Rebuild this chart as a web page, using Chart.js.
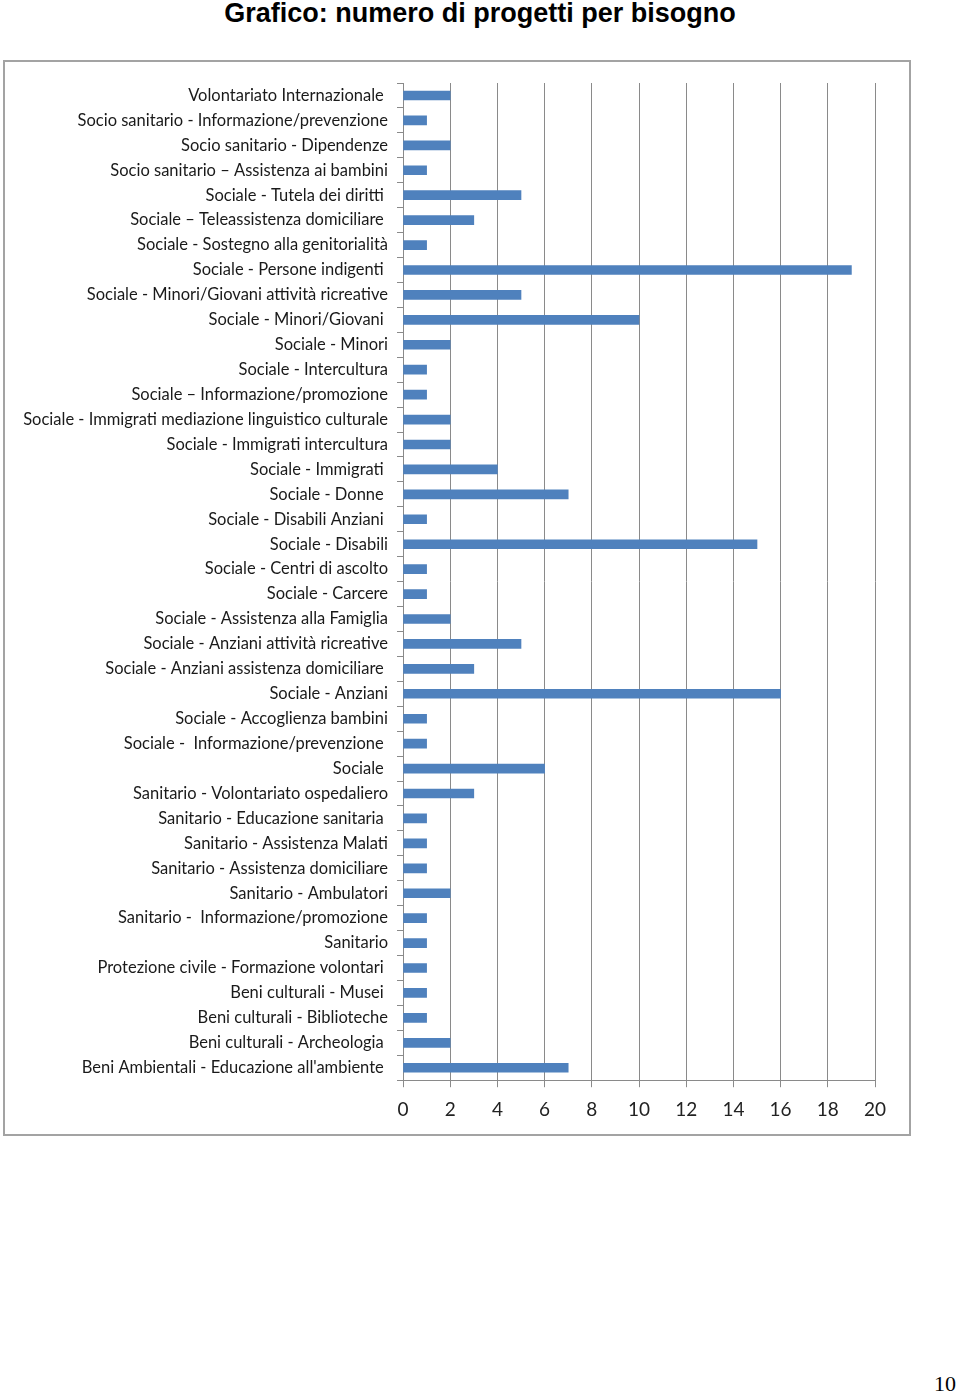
<!DOCTYPE html>
<html lang="it">
<head>
    <meta charset="UTF-8">
    <title>Grafico: numero di progetti per bisogno</title>
    <script src="https://cdn.jsdelivr.net/npm/chart.js@4.4.1/dist/chart.umd.min.js"></script>
    <style>
        body { margin: 0; background: #fff; width: 960px; height: 1394px; position: relative; }
        #title { position: absolute; left: 0; top: -2px; width: 960px; text-align: center;
                 font: bold 27px "Liberation Sans", Arial, sans-serif; color: #000; }
        #box { position: absolute; left: 3px; top: 60px; width: 904px; height: 1072px;
               border: 2px solid #a3a3a3; }
        #page { position: absolute; left: 934px; top: 1371px; font: 22px "Liberation Serif", serif; color: #000; }
    </style>
</head>
<body>
    <div id="title">Grafico: numero di progetti per bisogno</div>
    <div id="box"><canvas id="chart" width="904" height="1072"></canvas></div>
    <div id="page">10</div>

    <script>
        // categorie dall'alto verso il basso
        const bisogni = [
            'Volontariato Internazionale ',
            'Socio sanitario - Informazione/prevenzione',
            'Socio sanitario - Dipendenze',
            'Socio sanitario – Assistenza ai bambini',
            'Sociale - Tutela dei diritti ',
            'Sociale – Teleassistenza domiciliare ',
            'Sociale - Sostegno alla genitorialità',
            'Sociale - Persone indigenti ',
            'Sociale - Minori/Giovani attività ricreative',
            'Sociale - Minori/Giovani ',
            'Sociale - Minori',
            'Sociale - Intercultura',
            'Sociale – Informazione/promozione',
            'Sociale - Immigrati mediazione linguistico culturale',
            'Sociale - Immigrati intercultura',
            'Sociale - Immigrati ',
            'Sociale - Donne ',
            'Sociale - Disabili Anziani ',
            'Sociale - Disabili',
            'Sociale - Centri di ascolto',
            'Sociale - Carcere',
            'Sociale - Assistenza alla Famiglia',
            'Sociale - Anziani attività ricreative',
            'Sociale - Anziani assistenza domiciliare ',
            'Sociale - Anziani',
            'Sociale - Accoglienza bambini',
            'Sociale -  Informazione/prevenzione ',
            'Sociale ',
            'Sanitario - Volontariato ospedaliero',
            'Sanitario - Educazione sanitaria ',
            'Sanitario - Assistenza Malati',
            'Sanitario - Assistenza domiciliare',
            'Sanitario - Ambulatori',
            'Sanitario -  Informazione/promozione',
            'Sanitario',
            'Protezione civile - Formazione volontari ',
            'Beni culturali - Musei ',
            'Beni culturali - Biblioteche',
            'Beni culturali - Archeologia ',
            "Beni Ambientali - Educazione all'ambiente "
        ];

        const progetti = [
            2, 1, 2, 1, 5, 3, 1, 19, 5, 10,
            2, 1, 1, 2, 2, 4, 7, 1, 15, 1,
            1, 2, 5, 3, 16, 1, 1, 6, 3, 1,
            1, 1, 2, 1, 1, 1, 1, 1, 2, 7
        ];

        const xMin = 0, xMax = 20, xStep = 2;

        const ctx = document.getElementById('chart').getContext('2d');
        new Chart(ctx, {
            type: 'bar',
            data: {
                labels: bisogni,
                datasets: [{
                    data: progetti,
                    backgroundColor: '#4f81bd',
                    barThickness: 9
                }]
            },
            options: {
                indexAxis: 'y',
                responsive: false,
                animation: false,
                layout: { padding: { top: 21, right: 34, bottom: 2, left: 0 } },
                plugins: { legend: { display: false }, tooltip: { enabled: false } },
                scales: {
                    x: {
                        min: xMin, max: xMax,
                        ticks: { stepSize: xStep, color: '#222', padding: 11,
                                 font: { family: 'Lato', size: 19 } },
                        grid: { color: '#8a8a8a', lineWidth: 1, tickLength: 7 },
                        border: { color: '#8a8a8a' }
                    },
                    y: {
                        afterFit: s => { s.width = 398; },
                        ticks: { color: '#1a1a1a', padding: 9, autoSkip: false,
                                 font: { family: 'Lato', size: 16.5 } },
                        grid: { drawOnChartArea: false, color: '#8a8a8a', tickLength: 6 },
                        border: { color: '#8a8a8a' }
                    }
                }
            }
        });
    </script>
</body>
</html>
